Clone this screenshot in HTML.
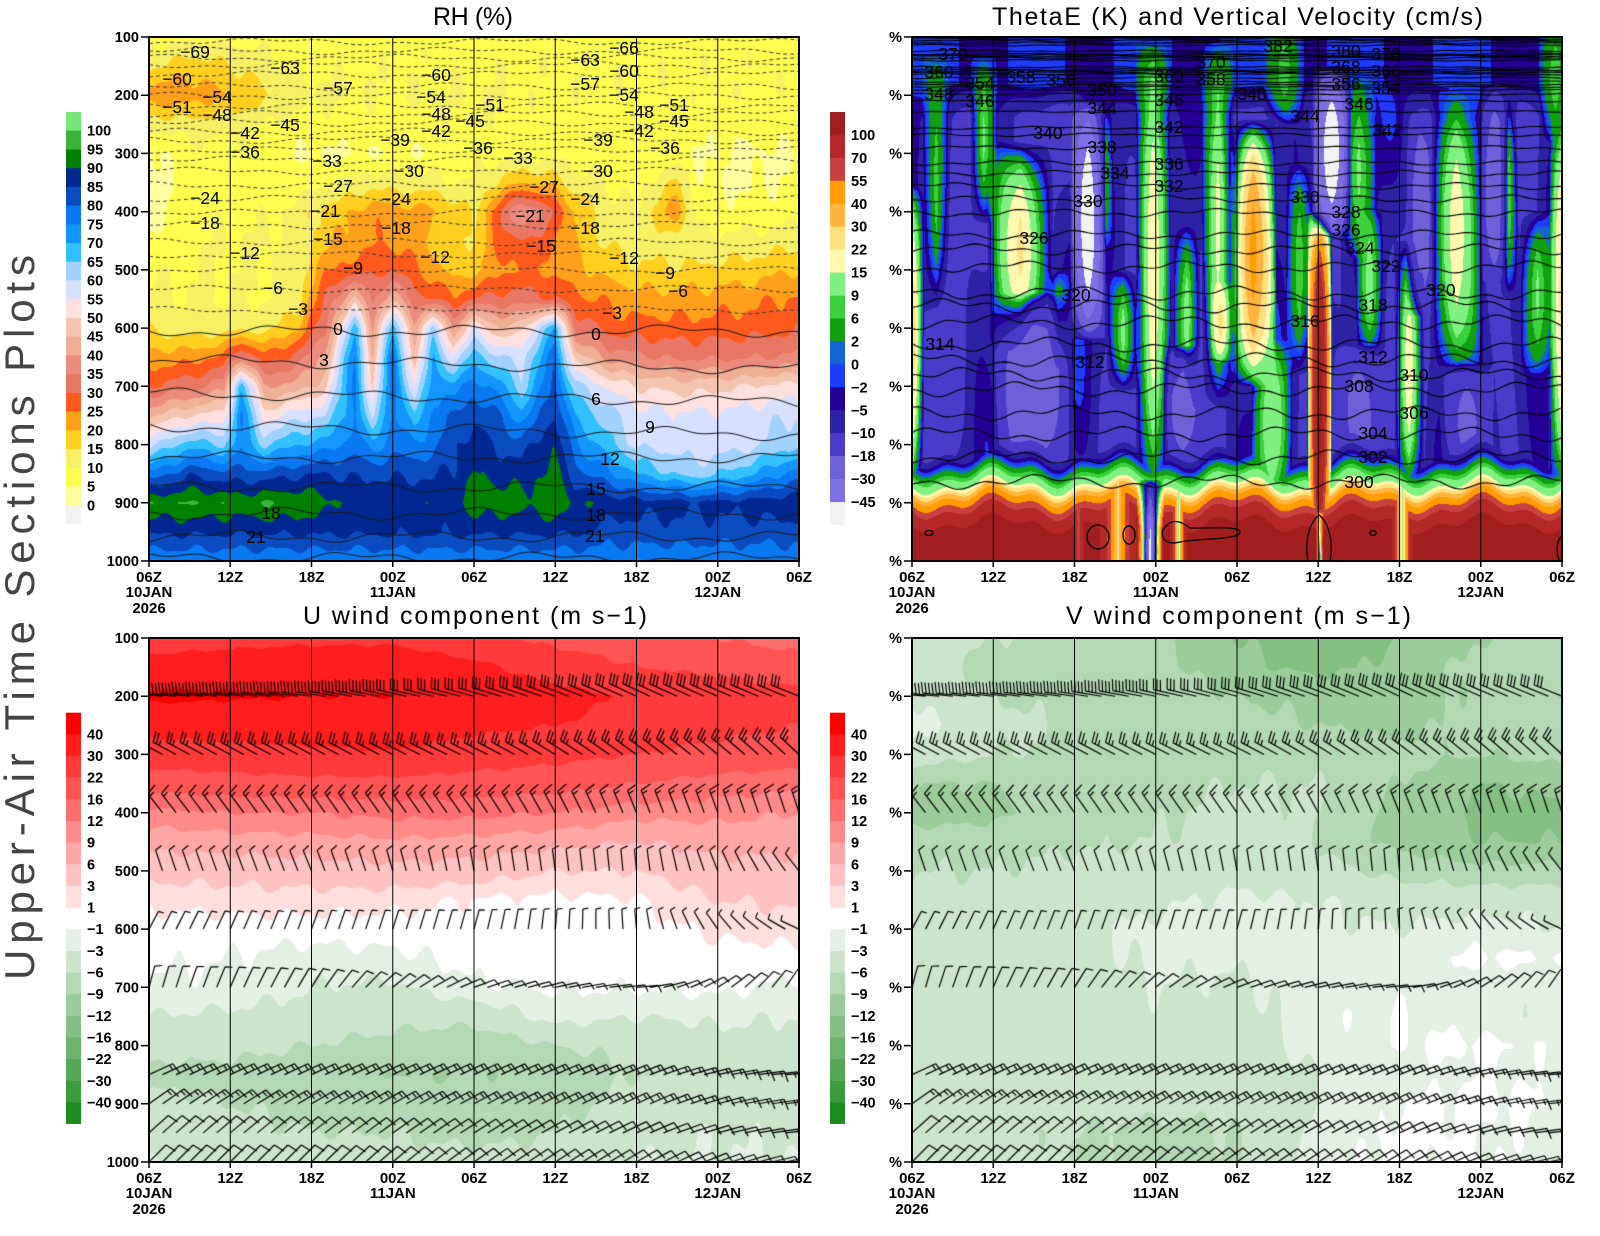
<!DOCTYPE html>
<html><head><meta charset="utf-8">
<style>
html,body{margin:0;padding:0;background:#fff}
body{width:1600px;height:1236px;position:relative;overflow:hidden}
canvas,svg{position:absolute;left:0;top:0}
text{font-family:"Liberation Sans",Arial,sans-serif;fill:#000}
.b{font-weight:bold;font-size:14.5px}
.x{font-weight:bold;font-size:15px}
.cl{font-size:17.5px}
.t{font-size:25px}
</style></head><body>
<canvas id="c" width="1600" height="1236"></canvas>
<svg width="1600" height="1236" xmlns="http://www.w3.org/2000/svg">
<text transform="translate(34,980) rotate(-90)" x="0" y="0" font-size="42" textLength="725" lengthAdjust="spacing" style="fill:#444">Upper-Air Time Sections Plots</text>
<text class="t" x="433" y="25" textLength="80" lengthAdjust="spacing">RH (%)</text>
<text class="t" x="992" y="25" textLength="491" lengthAdjust="spacing">ThetaE (K) and Vertical Velocity (cm/s)</text>
<text class="t" x="303" y="624" textLength="344" lengthAdjust="spacing">U wind component (m s−1)</text>
<text class="t" x="1066" y="624" textLength="345" lengthAdjust="spacing">V wind component (m s−1)</text>

<g>
<rect x="66" y="112" width="15" height="19" fill="#78e678"/><rect x="66" y="130.7" width="15" height="19" fill="#3cb43c"/><rect x="66" y="149.5" width="15" height="19" fill="#008000"/><rect x="66" y="168.2" width="15" height="19" fill="#002890"/><rect x="66" y="186.9" width="15" height="19" fill="#0a4cc0"/><rect x="66" y="205.6" width="15" height="19" fill="#0a78f0"/><rect x="66" y="224.4" width="15" height="19" fill="#1496ff"/><rect x="66" y="243.1" width="15" height="19" fill="#32c0ff"/><rect x="66" y="261.8" width="15" height="19" fill="#a0d2ff"/><rect x="66" y="280.5" width="15" height="19" fill="#d8e0ff"/><rect x="66" y="299.3" width="15" height="19" fill="#ffe0e0"/><rect x="66" y="318" width="15" height="19" fill="#f5c4b0"/><rect x="66" y="336.7" width="15" height="19" fill="#f0ae94"/><rect x="66" y="355.5" width="15" height="19" fill="#ec8c7c"/><rect x="66" y="374.2" width="15" height="19" fill="#e87864"/><rect x="66" y="392.9" width="15" height="19" fill="#ff5a1e"/><rect x="66" y="411.6" width="15" height="19" fill="#ffa01a"/><rect x="66" y="430.4" width="15" height="19" fill="#ffd020"/><rect x="66" y="449.1" width="15" height="19" fill="#f5f064"/><rect x="66" y="467.8" width="15" height="19" fill="#ffff50"/><rect x="66" y="486.5" width="15" height="19" fill="#ffffa0"/><rect x="66" y="505.3" width="15" height="18.7" fill="#f2f2f2"/>
</g>
<g class="b">
<text x="87" y="135.7">100</text><text x="87" y="154.5">95</text><text x="87" y="173.2">90</text><text x="87" y="191.9">85</text><text x="87" y="210.6">80</text><text x="87" y="229.4">75</text><text x="87" y="248.1">70</text><text x="87" y="266.8">65</text><text x="87" y="285.5">60</text><text x="87" y="304.3">55</text><text x="87" y="323">50</text><text x="87" y="341.7">45</text><text x="87" y="360.5">40</text><text x="87" y="379.2">35</text><text x="87" y="397.9">30</text><text x="87" y="416.6">25</text><text x="87" y="435.4">20</text><text x="87" y="454.1">15</text><text x="87" y="472.8">10</text><text x="87" y="491.5">5</text><text x="87" y="510.3">0</text>
</g>
<g>
<rect x="830" y="112" width="15" height="23.2" fill="#a01e1e"/><rect x="830" y="134.9" width="15" height="23.2" fill="#b42828"/><rect x="830" y="157.9" width="15" height="23.2" fill="#c84040"/><rect x="830" y="180.8" width="15" height="23.2" fill="#ff9c00"/><rect x="830" y="203.8" width="15" height="23.2" fill="#ffb440"/><rect x="830" y="226.7" width="15" height="23.2" fill="#ffe080"/><rect x="830" y="249.7" width="15" height="23.2" fill="#fff8b0"/><rect x="830" y="272.6" width="15" height="23.2" fill="#80f080"/><rect x="830" y="295.6" width="15" height="23.2" fill="#3cd03c"/><rect x="830" y="318.5" width="15" height="23.2" fill="#10a010"/><rect x="830" y="341.4" width="15" height="23.2" fill="#1464d2"/><rect x="830" y="364.4" width="15" height="23.2" fill="#1e3cff"/><rect x="830" y="387.3" width="15" height="23.2" fill="#240096"/><rect x="830" y="410.3" width="15" height="23.2" fill="#2e22a4"/><rect x="830" y="433.2" width="15" height="23.2" fill="#4a3cc8"/><rect x="830" y="456.2" width="15" height="23.2" fill="#7060d8"/><rect x="830" y="479.1" width="15" height="23.2" fill="#8070e6"/><rect x="830" y="502.1" width="15" height="22.9" fill="#f2f2f2"/>
</g>
<g class="b">
<text x="851" y="139.9">100</text><text x="851" y="162.9">70</text><text x="851" y="185.8">55</text><text x="851" y="208.8">40</text><text x="851" y="231.7">30</text><text x="851" y="254.7">22</text><text x="851" y="277.6">15</text><text x="851" y="300.6">9</text><text x="851" y="323.5">6</text><text x="851" y="346.4">2</text><text x="851" y="369.4">0</text><text x="851" y="392.3">−2</text><text x="851" y="415.3">−5</text><text x="851" y="438.2">−10</text><text x="851" y="461.2">−18</text><text x="851" y="484.1">−30</text><text x="851" y="507.1">−45</text>
</g>
<g>
<rect x="66" y="712.7" width="15" height="21.9" fill="#ff0000"/><rect x="66" y="734.4" width="15" height="21.9" fill="#ff1e1e"/><rect x="66" y="756" width="15" height="21.9" fill="#ff3a3a"/><rect x="66" y="777.7" width="15" height="21.9" fill="#ff5454"/><rect x="66" y="799.3" width="15" height="21.9" fill="#ff6e6e"/><rect x="66" y="821" width="15" height="21.9" fill="#ff8a8a"/><rect x="66" y="842.6" width="15" height="21.9" fill="#ffa6a6"/><rect x="66" y="864.3" width="15" height="21.9" fill="#ffc2c2"/><rect x="66" y="885.9" width="15" height="21.9" fill="#ffdede"/><rect x="66" y="929.2" width="15" height="21.9" fill="#e4f0e4"/><rect x="66" y="950.9" width="15" height="21.9" fill="#cce4cc"/><rect x="66" y="972.5" width="15" height="21.9" fill="#b4d8b4"/><rect x="66" y="994.2" width="15" height="21.9" fill="#9ccc9c"/><rect x="66" y="1015.8" width="15" height="21.9" fill="#84c084"/><rect x="66" y="1037.5" width="15" height="21.9" fill="#6cb46c"/><rect x="66" y="1059.1" width="15" height="21.9" fill="#54a854"/><rect x="66" y="1080.8" width="15" height="21.9" fill="#3c9c3c"/><rect x="66" y="1102.4" width="15" height="21.6" fill="#1e8c1e"/>
</g>
<g transform="translate(764,0)">
<rect x="66" y="712.7" width="15" height="21.9" fill="#ff0000"/><rect x="66" y="734.4" width="15" height="21.9" fill="#ff1e1e"/><rect x="66" y="756" width="15" height="21.9" fill="#ff3a3a"/><rect x="66" y="777.7" width="15" height="21.9" fill="#ff5454"/><rect x="66" y="799.3" width="15" height="21.9" fill="#ff6e6e"/><rect x="66" y="821" width="15" height="21.9" fill="#ff8a8a"/><rect x="66" y="842.6" width="15" height="21.9" fill="#ffa6a6"/><rect x="66" y="864.3" width="15" height="21.9" fill="#ffc2c2"/><rect x="66" y="885.9" width="15" height="21.9" fill="#ffdede"/><rect x="66" y="929.2" width="15" height="21.9" fill="#e4f0e4"/><rect x="66" y="950.9" width="15" height="21.9" fill="#cce4cc"/><rect x="66" y="972.5" width="15" height="21.9" fill="#b4d8b4"/><rect x="66" y="994.2" width="15" height="21.9" fill="#9ccc9c"/><rect x="66" y="1015.8" width="15" height="21.9" fill="#84c084"/><rect x="66" y="1037.5" width="15" height="21.9" fill="#6cb46c"/><rect x="66" y="1059.1" width="15" height="21.9" fill="#54a854"/><rect x="66" y="1080.8" width="15" height="21.9" fill="#3c9c3c"/><rect x="66" y="1102.4" width="15" height="21.6" fill="#1e8c1e"/>
</g>
<g class="b">
<text x="87" y="739.4">40</text><text x="87" y="761">30</text><text x="87" y="782.7">22</text><text x="87" y="804.3">16</text><text x="87" y="826">12</text><text x="87" y="847.6">9</text><text x="87" y="869.3">6</text><text x="87" y="890.9">3</text><text x="87" y="912.6">1</text><text x="87" y="934.2">−1</text><text x="87" y="955.9">−3</text><text x="87" y="977.5">−6</text><text x="87" y="999.2">−9</text><text x="87" y="1020.8">−12</text><text x="87" y="1042.5">−16</text><text x="87" y="1064.1">−22</text><text x="87" y="1085.8">−30</text><text x="87" y="1107.4">−40</text>
<text x="851" y="739.4">40</text><text x="851" y="761">30</text><text x="851" y="782.7">22</text><text x="851" y="804.3">16</text><text x="851" y="826">12</text><text x="851" y="847.6">9</text><text x="851" y="869.3">6</text><text x="851" y="890.9">3</text><text x="851" y="912.6">1</text><text x="851" y="934.2">−1</text><text x="851" y="955.9">−3</text><text x="851" y="977.5">−6</text><text x="851" y="999.2">−9</text><text x="851" y="1020.8">−12</text><text x="851" y="1042.5">−16</text><text x="851" y="1064.1">−22</text><text x="851" y="1085.8">−30</text><text x="851" y="1107.4">−40</text>
</g>

<path fill="none" stroke="#000" stroke-width="1" d="M230.25 37V561M311.5 37V561M392.75 37V561M474 37V561M555.25 37V561M636.5 37V561M717.75 37V561M993.25 37V561M1074.5 37V561M1155.75 37V561M1237 37V561M1318.25 37V561M1399.5 37V561M1480.75 37V561M230.25 638V1162M311.5 638V1162M392.75 638V1162M474 638V1162M555.25 638V1162M636.5 638V1162M717.75 638V1162M993.25 638V1162M1074.5 638V1162M1155.75 638V1162M1237 638V1162M1318.25 638V1162M1399.5 638V1162M1480.75 638V1162"/>
<path fill="none" stroke="#000" stroke-width="1.5" d="M141 37H149M141 95.2H149M141 153.4H149M141 211.7H149M141 269.9H149M141 328.1H149M141 386.3H149M141 444.6H149M141 502.8H149M141 561H149M904 37H912M904 95.2H912M904 153.4H912M904 211.7H912M904 269.9H912M904 328.1H912M904 386.3H912M904 444.6H912M904 502.8H912M904 561H912M141 638H149M141 696.2H149M141 754.4H149M141 812.7H149M141 870.9H149M141 929.1H149M141 987.3H149M141 1045.6H149M141 1103.8H149M141 1162H149M904 638H912M904 696.2H912M904 754.4H912M904 812.7H912M904 870.9H912M904 929.1H912M904 987.3H912M904 1045.6H912M904 1103.8H912M904 1162H912M149 561V567M230.25 561V567M311.5 561V567M392.75 561V567M474 561V567M555.25 561V567M636.5 561V567M717.75 561V567M799 561V567M912 561V567M993.25 561V567M1074.5 561V567M1155.75 561V567M1237 561V567M1318.25 561V567M1399.5 561V567M1480.75 561V567M1562 561V567M149 1162V1168M230.25 1162V1168M311.5 1162V1168M392.75 1162V1168M474 1162V1168M555.25 1162V1168M636.5 1162V1168M717.75 1162V1168M799 1162V1168M912 1162V1168M993.25 1162V1168M1074.5 1162V1168M1155.75 1162V1168M1237 1162V1168M1318.25 1162V1168M1399.5 1162V1168M1480.75 1162V1168M1562 1162V1168"/>
<g fill="none" stroke="#000" stroke-width="2">
<rect x="149" y="37" width="650" height="524"/><rect x="912" y="37" width="650" height="524"/>
<rect x="149" y="638" width="650" height="524"/><rect x="912" y="638" width="650" height="524"/>
</g>
<g fill="none" stroke="#000" stroke-width="1.3">
<ellipse cx="1098" cy="537" rx="11" ry="12"/><ellipse cx="1129" cy="535" rx="6" ry="9"/>
<path d="M1163 530 C1170 518 1180 520 1190 528 C1210 528 1240 526 1240 532 C1240 540 1200 538 1180 542 C1168 545 1160 540 1163 530Z"/>
<ellipse cx="929" cy="533" rx="4" ry="2.5"/><ellipse cx="1373" cy="533" rx="3" ry="2.5"/>
<path d="M1308 561 C1304 540 1310 522 1319 515 C1328 522 1334 540 1330 561"/>
<path d="M1562 536 C1556 540 1556 556 1560 561"/>
</g>

<g class="b" text-anchor="end">
<text x="139" y="42">100</text><text x="139" y="100.2">200</text><text x="139" y="158.4">300</text><text x="139" y="216.7">400</text><text x="139" y="274.9">500</text><text x="139" y="333.1">600</text><text x="139" y="391.3">700</text><text x="139" y="449.6">800</text><text x="139" y="507.8">900</text><text x="139" y="566">1000</text>
<text x="139" y="643">100</text><text x="139" y="701.2">200</text><text x="139" y="759.4">300</text><text x="139" y="817.7">400</text><text x="139" y="875.9">500</text><text x="139" y="934.1">600</text><text x="139" y="992.3">700</text><text x="139" y="1050.6">800</text><text x="139" y="1108.8">900</text><text x="139" y="1167">1000</text>
<text x="902" y="42">%</text><text x="902" y="100.2">%</text><text x="902" y="158.4">%</text><text x="902" y="216.7">%</text><text x="902" y="274.9">%</text><text x="902" y="333.1">%</text><text x="902" y="391.3">%</text><text x="902" y="449.6">%</text><text x="902" y="507.8">%</text><text x="902" y="566">%</text>
<text x="902" y="643">%</text><text x="902" y="701.2">%</text><text x="902" y="759.4">%</text><text x="902" y="817.7">%</text><text x="902" y="875.9">%</text><text x="902" y="934.1">%</text><text x="902" y="992.3">%</text><text x="902" y="1050.6">%</text><text x="902" y="1108.8">%</text><text x="902" y="1167">%</text>
</g>
<g class="x" text-anchor="middle">
<text x="149" y="582">06Z</text><text x="230.25" y="582">12Z</text><text x="311.5" y="582">18Z</text><text x="392.75" y="582">00Z</text><text x="474" y="582">06Z</text><text x="555.25" y="582">12Z</text><text x="636.5" y="582">18Z</text><text x="717.75" y="582">00Z</text><text x="799" y="582">06Z</text>
<text x="149" y="597">10JAN</text><text x="149" y="613">2026</text><text x="392.75" y="597">11JAN</text><text x="717.75" y="597">12JAN</text>
<text x="912" y="582">06Z</text><text x="993.25" y="582">12Z</text><text x="1074.5" y="582">18Z</text><text x="1155.75" y="582">00Z</text><text x="1237" y="582">06Z</text><text x="1318.25" y="582">12Z</text><text x="1399.5" y="582">18Z</text><text x="1480.75" y="582">00Z</text><text x="1562" y="582">06Z</text>
<text x="912" y="597">10JAN</text><text x="912" y="613">2026</text><text x="1155.75" y="597">11JAN</text><text x="1480.75" y="597">12JAN</text>
<text x="149" y="1183">06Z</text><text x="230.25" y="1183">12Z</text><text x="311.5" y="1183">18Z</text><text x="392.75" y="1183">00Z</text><text x="474" y="1183">06Z</text><text x="555.25" y="1183">12Z</text><text x="636.5" y="1183">18Z</text><text x="717.75" y="1183">00Z</text><text x="799" y="1183">06Z</text>
<text x="149" y="1198">10JAN</text><text x="149" y="1214">2026</text><text x="392.75" y="1198">11JAN</text><text x="717.75" y="1198">12JAN</text>
<text x="912" y="1183">06Z</text><text x="993.25" y="1183">12Z</text><text x="1074.5" y="1183">18Z</text><text x="1155.75" y="1183">00Z</text><text x="1237" y="1183">06Z</text><text x="1318.25" y="1183">12Z</text><text x="1399.5" y="1183">18Z</text><text x="1480.75" y="1183">00Z</text><text x="1562" y="1183">06Z</text>
<text x="912" y="1198">10JAN</text><text x="912" y="1214">2026</text><text x="1155.75" y="1198">11JAN</text><text x="1480.75" y="1198">12JAN</text>
</g>

<g class="cl" text-anchor="middle">
<text x="195" y="58">−69</text><text x="285" y="74">−63</text><text x="177" y="85">−60</text><text x="338" y="94">−57</text><text x="217" y="103">−54</text><text x="177" y="113">−51</text><text x="217" y="121">−48</text><text x="285" y="131">−45</text><text x="245" y="139">−42</text><text x="245" y="158">−36</text><text x="327" y="167">−33</text><text x="338" y="192">−27</text><text x="205" y="204">−24</text><text x="205" y="229">−18</text><text x="325" y="217">−21</text><text x="328" y="245">−15</text><text x="245" y="259">−12</text><text x="353" y="274">−9</text><text x="273" y="294">−6</text><text x="298" y="315">−3</text><text x="338" y="335">0</text><text x="324" y="366">3</text>
<text x="436" y="81">−60</text><text x="431" y="103">−54</text><text x="436" y="120">−48</text><text x="436" y="137">−42</text><text x="395" y="146">−39</text><text x="409" y="177">−30</text><text x="396" y="205">−24</text><text x="396" y="234">−18</text><text x="435" y="263">−12</text>
<text x="490" y="111">−51</text><text x="470" y="127">−45</text><text x="478" y="154">−36</text><text x="518" y="164">−33</text><text x="544" y="193">−27</text><text x="530" y="222">−21</text><text x="541" y="252">−15</text>
<text x="585" y="66">−63</text><text x="624" y="54">−66</text><text x="585" y="90">−57</text><text x="624" y="77">−60</text><text x="624" y="101">−54</text><text x="639" y="118">−48</text><text x="639" y="137">−42</text><text x="674" y="111">−51</text><text x="674" y="127">−45</text><text x="665" y="154">−36</text><text x="598" y="146">−39</text><text x="598" y="177">−30</text><text x="585" y="205">−24</text><text x="585" y="234">−18</text><text x="624" y="264">−12</text><text x="665" y="279">−9</text><text x="678" y="297">−6</text><text x="612" y="319">−3</text><text x="596" y="340">0</text><text x="596" y="405">6</text><text x="650" y="433">9</text><text x="610" y="465">12</text><text x="596" y="495">15</text><text x="596" y="521">18</text><text x="595" y="542">21</text><text x="271" y="519">18</text><text x="256" y="543">21</text>
</g>
<g class="cl" text-anchor="middle">
<text x="953" y="60">370</text><text x="939" y="78">360</text><text x="980" y="89">354</text><text x="939" y="100">348</text><text x="980" y="107">346</text><text x="1021" y="83">358</text><text x="1061" y="86">356</text><text x="1102" y="96">350</text><text x="1102" y="114">344</text><text x="1048" y="139">340</text><text x="1102" y="153">338</text><text x="1115" y="179">334</text><text x="1088" y="207">330</text><text x="1034" y="244">326</text><text x="1076" y="301">320</text><text x="940" y="350">314</text><text x="1090" y="368">312</text>
<text x="1169" y="82">360</text><text x="1169" y="106">346</text><text x="1169" y="133">342</text><text x="1169" y="170">336</text><text x="1169" y="192">332</text><text x="1211" y="68">370</text><text x="1211" y="85">358</text><text x="1252" y="100">348</text>
<text x="1278" y="52">382</text><text x="1346" y="57">380</text><text x="1386" y="60">378</text><text x="1346" y="73">368</text><text x="1386" y="77">366</text><text x="1346" y="90">356</text><text x="1386" y="94">354</text><text x="1359" y="110">346</text><text x="1305" y="122">344</text><text x="1387" y="136">342</text><text x="1305" y="203">330</text><text x="1346" y="218">328</text><text x="1346" y="236">326</text><text x="1360" y="254">324</text><text x="1386" y="272">322</text><text x="1441" y="296">320</text><text x="1373" y="311">318</text><text x="1305" y="327">316</text><text x="1373" y="363">312</text><text x="1414" y="381">310</text><text x="1359" y="392">308</text><text x="1414" y="419">306</text><text x="1373" y="439">304</text><text x="1373" y="463">302</text><text x="1359" y="488">300</text>
</g>
</svg>
<script>
(function(){
const W=1600,H=1236;
const cv=document.getElementById('c');const ctx=cv.getContext('2d');
const img=ctx.createImageData(W,H);const D=img.data;
for(let i=0;i<D.length;i++)D[i]=255;
function hx(c){return[parseInt(c.substr(1,2),16),parseInt(c.substr(3,2),16),parseInt(c.substr(5,2),16)]}
function cmap(L,C){const cs=C.map(hx);return v=>{let i=0;while(i<L.length&&v>=L[i])i++;return cs[i]}}
function grid(T,G){return(h,p)=>{let i=0;while(i<T.length-2&&h>T[i+1])i++;let a=(h-T[i])/(T[i+1]-T[i]);a=a<0?0:a>1?1:a;let r=(p-100)/50,j=Math.floor(r);if(j>17)j=17;if(j<0)j=0;let b=r-j;b=b<0?0:b>1?1:b;const A=G[i],B=G[i+1];return(A[j]*(1-b)+A[j+1]*b)*(1-a)+(B[j]*(1-b)+B[j+1]*b)*a}}
function fill(x0,y0,fn,cm){for(let py=0;py<524;py++){const p=100+(py+.5)*900/524;for(let px=0;px<650;px++){const h=(px+.5)*48/650;const c=cm(fn(h,p));const k=((y0+py)*W+x0+px)*4;D[k]=c[0];D[k+1]=c[1];D[k+2]=c[2];D[k+3]=255;}}}

// RH
const RT=[0,3,5.5,6.8,8.5,11,13,15.2,16.5,18,19.6,21,22.5,24,26,27.5,29.9,31.5,34,36,39,40.5,44,48];
const RG=[
[8,14,24,12,3,3,3,6,9,11,14,22,30,44,58,76,94,87,76],
[8,18,23,13,8,8,8,9,10,10,12,23,33,50,68,84,95,88,77],
[8,16,21,12,8,8,9,10,10,10,12,26,38,52,64,82,94,90,78],
[8,14,19,11,8,8,9,10,10,10,14,36,70,76,74,82,93,90,78],
[8,12,17,10,7,7,9,10,10,10,12,27,40,52,64,82,95,88,80],
[8,9,12,8,5,7,12,12,12,13,20,32,42,58,70,84,94,88,80],
[8,9,11,8,4,9,17,18,24,30,34,42,48,60,72,85,92,88,80],
[8,9,10,8,5,11,20,22,28,46,68,76,78,76,78,84,88,88,80],
[8,9,10,8,5,13,24,24,28,34,40,44,48,58,72,84,90,88,80],
[8,9,10,8,5,12,22,24,30,44,68,78,80,78,78,84,88,90,82],
[8,9,10,8,5,12,22,22,26,32,42,46,54,66,76,84,90,88,82],
[8,9,10,9,6,12,21,18,22,30,62,70,74,77,78,84,88,90,84],
[8,9,10,9,6,10,18,15,18,26,40,56,72,80,84,86,88,88,82],
[8,9,10,9,8,10,14,15,18,30,55,68,78,84,88,90,93,92,84],
[8,9,10,9,8,16,30,28,24,32,45,60,72,80,84,88,93,90,82],
[8,9,9,8,8,20,42,30,26,32,48,58,62,72,82,88,91,88,82],
[8,9,9,8,8,18,30,26,24,30,70,78,82,86,90,92,94,92,84],
[8,9,9,8,8,12,20,20,22,26,34,48,62,70,76,82,90,88,80],
[8,9,9,8,7,10,12,14,18,24,28,38,54,62,66,76,88,88,80],
[8,9,9,8,6,8,10,12,16,22,27,36,50,57,59,70,87,88,78],
[8,9,9,8,6,16,24,12,16,22,27,34,48,56,58,64,87,88,78],
[8,9,9,7,5,6,8,11,16,22,27,34,48,56,57,62,86,88,78],
[8,9,9,7,4,4,6,12,17,23,28,34,50,57,58,68,87,88,78],
[8,9,9,7,5,6,8,13,20,26,29,36,52,60,64,78,88,88,78]];
for(let i=0;i<RG.length;i++){const c=RG[i];c[17]=RT[i]<=32?86:83;c[18]=76;}
const rhg=grid(RT,RG);
const rh=(h,p)=>rhg(h,p)+1.0*Math.sin(h*2.1+p*.023)+0.6*Math.sin(h*3.7-p*.041);
const rhC=cmap([0,5,10,15,20,25,30,35,40,45,50,55,60,65,70,75,80,85,90,95,100],
['#f2f2f2','#ffffa0','#ffff50','#f5f064','#ffd020','#ffa01a','#ff5a1e','#e87864','#ec8c7c','#f0ae94','#f5c4b0','#ffe0e0','#d8e0ff','#a0d2ff','#32c0ff','#1496ff','#0a78f0','#0a4cc0','#002890','#008000','#3cb43c','#78e678']);
fill(149,37,rh,rhC);

// ThetaE / vertical velocity
const FP=[[0,.9,360,900,28],[1.8,1.0,130,580,8],[5.3,1.0,130,420,10],[8.0,2.4,280,640,24],[10.8,.8,500,670,8],[14.0,.8,230,460,8],[15.6,1.2,500,710,11],[17.8,1.3,110,890,22],[20.3,1.0,420,740,12],[22.6,1.2,110,740,18],[22.8,.8,520,660,24],[25.2,1.7,240,700,45],[26.6,1.5,620,920,15],[28.6,1.0,320,680,9],[27.5,1.5,70,250,8],[30.1,.9,400,1040,115],[33.0,1.3,170,480,10],[33.8,1.0,400,640,12],[36.7,1.1,450,890,22],[40.2,2.0,190,680,20],[44.1,.7,200,550,9],[46.2,1.3,400,680,10],[48.0,.9,230,890,26],[47.5,1.2,70,280,8],
[13.0,1.3,210,620,-60],[31.0,1.4,150,440,-58],[9.0,3.0,540,860,-28],[20.0,1.5,630,840,-25],[33.0,2.0,630,860,-22],[41.0,2.0,660,860,-22],[43.0,1.0,180,520,-25],[37.5,1.0,230,580,-22]];
const FB=[[17.6,1.0,860,1100,-55],[30.1,.3,910,1100,-8]];
function feat(w,h,p,F){for(const f of F){const s=1-Math.abs(h-f[0])/f[1];if(s<=0)continue;const t=(p-f[2])/(f[3]-f[2]);if(t<=0||t>=1)continue;const u=2*t-1;const v=1-u*u;const g=Math.pow(s*v,.65);w+=(f[4]-w)*g;}return w}
function te(h,p){let w=-9+4*Math.sin(h*.9+1+p*.003)+3*Math.sin(h*.37+p*.006)+2*Math.sin(h*1.7-p*.01);
if(p<240){const tp=-1.8+1.6*Math.sin(h*.8+.5);const t=Math.max(0,Math.min(1,(p-180)/60));w=tp*(1-t)+w*t;}
w=feat(w,h,p,FP);
const pb=810+12*Math.sin(h*.7+.3)+7*Math.sin(h*1.9);
const s=p-pb;let B=s<60?-12+s*.45:15+(s-60)*1.3;
let cap=125;
for(const n of [[15.2,1.8,25],[19.7,.8,12],[36.2,1.0,10],[12.3,.6,60]]){const q=Math.min(1,Math.abs(h-n[0])/n[1]);cap=Math.min(cap,n[2]+(125-n[2])*q)}
B=Math.min(B,cap);if(B>w)w=B;
return feat(w,h,p,FB)}
const teC=cmap([-45,-30,-18,-10,-5,-2,0,2,6,9,15,22,30,40,55,70,100],
['#f2f2f2','#8070e6','#7060d8','#4a3cc8','#2e22a4','#240096','#1e3cff','#1464d2','#10a010','#3cd03c','#80f080','#fff8b0','#ffe080','#ffb440','#ff9c00','#c84040','#b42828','#a01e1e']);
fill(912,37,te,teC);

// U / V
const UT=[0,6,12,18,24,30,36,42,48];
const UG=[
[25,34,42,33,26,18,11,7,4,1.5,0,-.5,-1.5,-3,-4.5,-7,-5,-4,-3],
[27,35,41,34,27,19,12,7.5,4,2,0,-1,-1.5,-3.5,-5,-7,-6,-5,-4],
[28,36,40,35,28,20,12,8,4.5,2,0,-2,-3,-4,-6,-8,-7,-6,-4],
[28,36,40,36,29,20,13,8.5,5,1.8,0,-1.5,-3.5,-5,-7,-9,-7,-6,-5],
[24,32,36,32,26,19,13,8,4.5,.8,0,-.3,-1.2,-5,-8,-9,-8,-7,-5],
[20,26,33,30,24,18,12,7,3,.5,0,0,-.8,-2,-6,-8,-7,-6,-5],
[18,22,29,27,22,16,10,6,3,.8,0,0,-.8,-3,-5,-6,-5,-4,-3],
[16,20,26,24,20,14,10,7,5,3,1.5,0,-.5,-2.5,-4,-5,-4,-3,-3],
[14,18,24,22,19,13,9,7,5,3.5,2,.2,-1.5,-3,-4,-4.5,-4,-3.5,-3]];
const VG=[
[-3.5,-4.5,-3,-2,-4,-9,-11,-7,-6,-5,-4,-4,-4,-4,-4,-4,-4,-5,-5],
[-6,-7,-6,-5,-6,-9,-10,-7,-6,-5,-4.5,-4.5,-4.5,-4.5,-4.5,-4.5,-4.5,-5,-5],
[-7,-7.5,-7,-6.5,-6.5,-7,-7,-6.5,-5,-4,-3.5,-4,-4.5,-4.5,-4.5,-4.5,-5,-6,-6],
[-8,-8,-7.5,-7,-7,-7,-6.5,-6,-4.5,-3.5,-2.5,-2.5,-3,-3.5,-4,-4.5,-5,-7,-7],
[-12,-11,-9,-8,-7,-6,-5,-4.5,-4,-2.5,-2,-2.5,-3.5,-4,-4.5,-5,-5.5,-6,-6],
[-14,-13,-10,-9,-7,-6,-6,-6,-5,-3,-2.5,-2,-1.8,-1.5,-2,-3,-3,-2.5,-2],
[-12,-11,-11,-10,-8,-9,-10,-10,-7,-4,-3,-2,-1.5,-1,-1,-2,-1,-.5,-.5],
[-9,-8,-8,-8,-9,-12,-13,-12,-8,-4,-2,-.5,-2,-2,-.5,-1,-.5,-1,-1],
[-8,-7,-7,-7,-8,-11,-13,-12,-8,-4,-3,-1,-3,-3,-1.5,-1.5,-1,-1.5,-1.5]];
const ug=grid(UT,UG),vg=grid(UT,VG);
const nz=(h,p)=>0.3*Math.sin(h*1.7+p*.021)+0.2*Math.sin(h*3.1-p*.013);
const uvC=cmap([-40,-30,-22,-16,-12,-9,-6,-3,-1,1,3,6,9,12,16,22,30,40],
['#1e8c1e','#3c9c3c','#54a854','#6cb46c','#84c084','#9ccc9c','#b4d8b4','#cce4cc','#e4f0e4','#ffffff','#ffdede','#ffc2c2','#ffa6a6','#ff8a8a','#ff6e6e','#ff5454','#ff3a3a','#ff1e1e','#ff0000']);
fill(149,638,(h,p)=>ug(h,p)+nz(h,p),uvC);
fill(912,638,(h,p)=>vg(h,p)+nz(h,p),uvC);
ctx.putImageData(img,0,0);

function yP(y0,p){return y0+(p-100)*524/900}
function xH(x0,h){return x0+h*650/48}
function interp(K,V,x){if(x<=K[0])return V[0];for(let i=0;i<K.length-1;i++){if(x<=K[i+1]){const a=(x-K[i])/(K[i+1]-K[i]);return V[i]+(V[i+1]-V[i])*a}}return V[V.length-1]}

ctx.save();ctx.beginPath();ctx.rect(149,37,650,524);ctx.clip();
const TK=[-72,-69,-66,-63,-60,-57,-54,-51,-48,-45,-42,-39,-36,-33,-30,-27,-24,-21,-18,-15,-12,-9,-6,-3,0,3,6,9,12,15,18,21,24];
const TP=[108,124,136,148,164,185,201,218,232,247,263,277,294,311,330,354,377,402,423,452,474,500,533,569,605,655,712,768,822,873,919,958,995];
for(const T of TK){
 ctx.beginPath();
 if(T<0){ctx.setLineDash([4,3]);ctx.strokeStyle='#3a3a3a';ctx.lineWidth=1;}else{ctx.setLineDash([]);ctx.strokeStyle='#1a1a1a';ctx.lineWidth=1;}
 for(let px=0;px<=652;px+=4){const h=px*48/650;let p=interp(TK,TP,T);
  if(T<0)p+=4*Math.sin(.35*h+T*.5)+2.5*Math.sin(1.1*h+T);
  else p+=7*Math.sin(.45*h+T*.7)+4*Math.sin(1.3*h+T*1.3)+((T>=3&&T<=9)?h/48*15:0);
  const x=149+px,y=yP(37,p);if(px==0)ctx.moveTo(x,y);else ctx.lineTo(x,y);}
 ctx.stroke();}
ctx.restore();ctx.setLineDash([]);

ctx.save();ctx.beginPath();ctx.rect(912,37,650,524);ctx.clip();
const QK=[300,302,304,306,308,310,312,314,316,318,320,322,324,326,328,330,332,334,336,338,340,342,344,346,348,350,352,354,356,358,360,362,364,366,368,370,372,374,376,378,380,382,384,386,388,390,392,394];
const QP=[864,822,782,746,705,680,655,628,590,562,540,495,465,440,402,378,356,334,316,290,268,256,228,210,198,191,186,182,177,170,164,161,158,156,152,140,136,133,131,129,124,114,110,106,103,101,99,97];
ctx.strokeStyle='#000';ctx.lineWidth=1.1;
for(let q=300;q<=394;q+=2){ctx.beginPath();const p0=interp(QK,QP,q);let a=Math.max(.12,Math.min(1,(p0-180)/380));
 for(let px=0;px<=652;px+=4){const h=px*48/650;const p=p0+a*(8*Math.sin(.5*h+q*.9)+5*Math.sin(1.7*h+q*.3));const x=912+px,y=yP(37,p);if(px==0)ctx.moveTo(x,y);else ctx.lineTo(x,y);}
 ctx.stroke();}
ctx.restore();

const HK=[0,12,24,36,48];
const R=[
{p:200,d:[175,172,165,155,158],L:30,nf:[4,4,3,3,3],hf:0},
{p:300,d:[152,152,154,144,137],L:26,nf:[2,2,2,2,2],hf:1},
{p:400,d:[128,125,125,112,108],L:24,nf:[1,1,1,1,1],hf:1},
{p:500,d:[108,112,100,95,128],L:22,nf:[1,1,1,1,1],hf:0,fl:7},
{p:600,d:[62,70,75,95,155],L:20,nf:[0,0,0,0,0],hf:1},
{p:700,d:[75,58,20,5,60],L:22,nf:[1,1,1,1,1],hf:0,fl:7},
{p:850,d:[25,25,25,22,3],L:26,nf:[1,1,1,1,1],hf:1},
{p:900,d:[35,30,28,25,5],L:26,nf:[1,1,1,1,1],hf:1},
{p:950,d:[42,38,32,25,5],L:26,nf:[1,1,1,1,1],hf:0},
{p:1000,d:[45,45,35,30,10],L:24,nf:[1,1,1,1,1],hf:0}];
function barbs(x0,y0){ctx.save();ctx.beginPath();ctx.rect(x0,y0,650,524);ctx.clip();ctx.strokeStyle='#000';ctx.lineWidth=1.2;ctx.beginPath();
 for(const r of R){const y=yP(y0,r.p);for(let h=0;h<=48;h++){const x=xH(x0,h);const dg=interp(HK,r.d,h)*Math.PI/180;const dx=Math.cos(dg),dy=-Math.sin(dg);const L=r.L;const ex=x+dx*L,ey=y+dy*L;ctx.moveTo(x,y);ctx.lineTo(ex,ey);const fx=-dy,fy=dx;const nf=Math.round(interp(HK,r.nf,h));const FL=r.fl||11;let k=0;
  for(let i=0;i<nf;i++,k++){const bx=ex-dx*k*3.5,by=ey-dy*k*3.5;ctx.moveTo(bx,by);ctx.lineTo(bx+fx*FL+dx*2.5,by+fy*FL+dy*2.5);}
  if(r.hf){const bx=ex-dx*k*3.5,by=ey-dy*k*3.5;ctx.moveTo(bx,by);ctx.lineTo(bx+fx*FL/2+dx*1.2,by+fy*FL/2+dy*1.2);}}}
 ctx.stroke();ctx.restore();}
barbs(149,638);barbs(912,638);
})();
</script>
</body></html>
